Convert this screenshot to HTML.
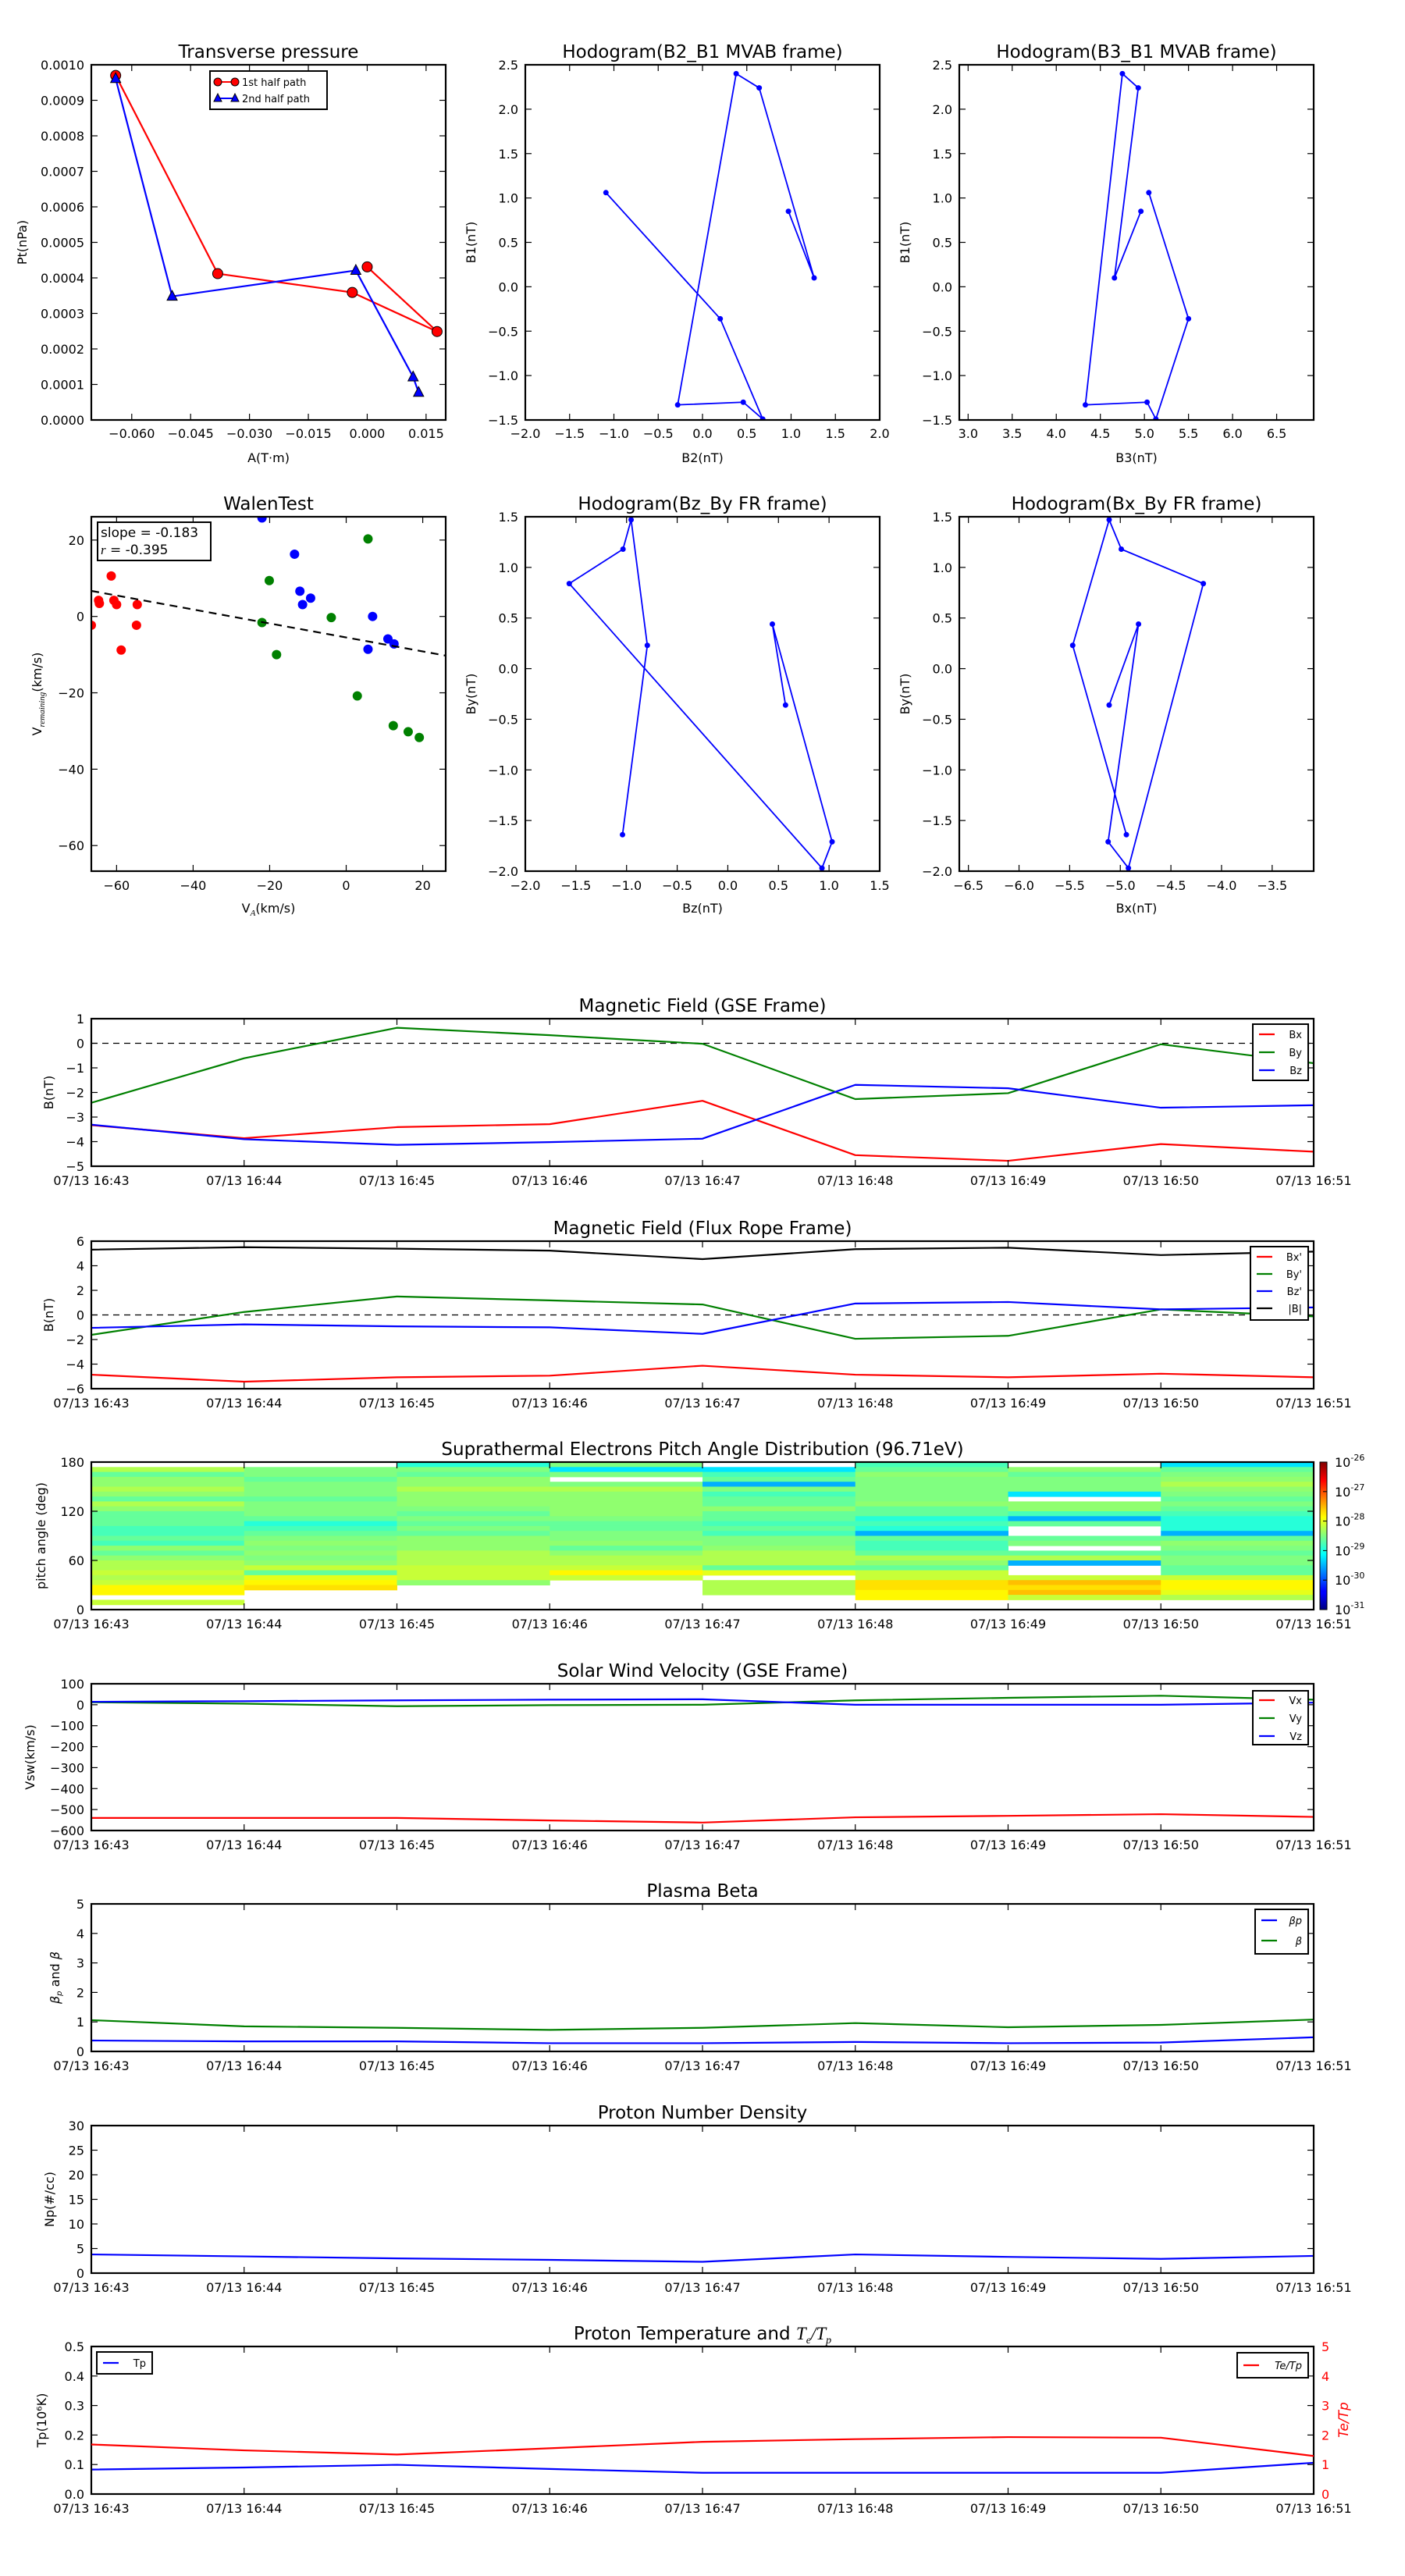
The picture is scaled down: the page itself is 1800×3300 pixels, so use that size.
<!DOCTYPE html>
<html>
<head>
<meta charset="utf-8">
<style>
html,body{margin:0;padding:0;background:#fff;}
svg{display:block;}
text{font-family:"DejaVu Sans","Liberation Sans",sans-serif;}
</style>
</head>
<body>
<svg id="fig" xmlns="http://www.w3.org/2000/svg" width="1800" height="3300" viewBox="0 0 1800 3300">
<rect x="0" y="0" width="1800" height="3300" fill="#fff"/>
<defs>
<linearGradient id="jetgrad" x1="0" y1="1" x2="0" y2="0">
<stop offset="0" stop-color="#000080"/>
<stop offset="0.11" stop-color="#0000ff"/>
<stop offset="0.125" stop-color="#0000ff"/>
<stop offset="0.34" stop-color="#00dcff"/>
<stop offset="0.375" stop-color="#00ffff"/>
<stop offset="0.5" stop-color="#80ff80"/>
<stop offset="0.625" stop-color="#ffff00"/>
<stop offset="0.66" stop-color="#ffe000"/>
<stop offset="0.875" stop-color="#ff0000"/>
<stop offset="1" stop-color="#800000"/>
</linearGradient>
</defs>
</svg>
<script>
// ---------------- DATA ----------------
const tpRedA = [-0.0641, -0.0381, -0.0038, 0.0178, 0.0000];
const tpRedP = [0.00097, 0.000412, 0.000359, 0.000249, 0.000431];
const tpBlueA = [-0.0641, -0.0497, -0.0029, 0.0117, 0.0131];
const tpBlueP = [0.000961, 0.000348, 0.000421, 0.000121, 0.0000774];
const tpXTicks = [-0.060, -0.045, -0.030, -0.015, 0.000, 0.015];
const tpXLabels = ["\u22120.060","\u22120.045","\u22120.030","\u22120.015","0.000","0.015"];
const tpYTicks = [0,0.0001,0.0002,0.0003,0.0004,0.0005,0.0006,0.0007,0.0008,0.0009,0.0010];
const tpYLabels = ["0.0000","0.0001","0.0002","0.0003","0.0004","0.0005","0.0006","0.0007","0.0008","0.0009","0.0010"];
const mvB1 = [1.06, -0.36, -1.49, -1.30, -1.33, 2.40, 2.24, 0.10, 0.85];
const mvB2 = [-1.09, 0.20, 0.68, 0.46, -0.28, 0.38, 0.64, 1.26, 0.97];
const mvB3 = [5.05, 5.50, 5.13, 5.03, 4.33, 4.75, 4.93, 4.66, 4.96];
const walRedX = [-66.6, -64.7, -64.5, -61.4, -60.7, -60.0, -58.8, -54.6, -54.8];
const walRedY = [-2.3, 4.2, 3.4, 10.6, 4.2, 3.1, -8.8, 3.1, -2.3];
const walGreenX = [-22.0, -20.1, -18.2, -3.9, 5.7, 2.9, 12.3, 16.2, 19.1];
const walGreenY = [-1.6, 9.4, -10.0, -0.3, 20.3, -20.8, -28.6, -30.2, -31.7];
const walBlueX = [-22.0, -13.5, -12.1, -11.4, -9.3, 6.9, 5.7, 10.9, 12.5];
const walBlueY = [25.8, 16.3, 6.6, 3.1, 4.8, 0.0, -8.6, -5.9, -7.2];
const walSlope = -0.183;
const walIntercept = -5.5;
const frBx = [-4.94, -5.47, -5.11, -4.99, -4.18, -4.92, -5.12, -4.82, -5.11];
const frBy = [-1.64, 0.23, 1.47, 1.18, 0.84, -1.97, -1.71, 0.44, -0.36];
const frBz = [-1.04, -0.795, -0.955, -1.035, -1.566, 0.93, 1.03, 0.44, 0.57];
const minutes = [0,1,2,3,4,5,6,7,8];
const timeLabels = ["07/13 16:43","07/13 16:44","07/13 16:45","07/13 16:46","07/13 16:47","07/13 16:48","07/13 16:49","07/13 16:50","07/13 16:51"];
const gseBx = [-3.33, -3.86, -3.41, -3.29, -2.34, -4.55, -4.78, -4.10, -4.41];
const gseBy = [-2.42, -0.61, 0.63, 0.33, -0.02, -2.27, -2.03, -0.04, -0.81];
const gseBz = [-3.31, -3.90, -4.13, -4.02, -3.88, -1.69, -1.83, -2.62, -2.52];
const ropeBx = [-4.86, -5.43, -5.07, -4.94, -4.13, -4.86, -5.07, -4.78, -5.07];
const ropeBy = [-1.62, 0.24, 1.50, 1.18, 0.85, -1.94, -1.70, 0.45, -0.12];
const ropeBz = [-1.05, -0.77, -0.93, -1.01, -1.54, 0.93, 1.05, 0.45, 0.61];
const ropeBt = [5.31, 5.51, 5.39, 5.23, 4.54, 5.35, 5.47, 4.87, 5.15];
const swVx = [-540, -540, -540, -552, -562, -537, -530, -522, -535];
const swVy = [12, 5, -7, -2, 0, 21, 33, 43, 24];
const swVz = [14, 17, 21, 24, 26, 0, 0, 0, 10];
const betaP = [0.37, 0.34, 0.34, 0.28, 0.28, 0.32, 0.28, 0.30, 0.48];
const betaT = [1.06, 0.85, 0.80, 0.73, 0.80, 0.96, 0.82, 0.90, 1.08];
const npDens = [3.8, 3.4, 3.0, 2.7, 2.3, 3.8, 3.3, 2.9, 3.5];
const tpTemp = [0.083, 0.090, 0.099, 0.085, 0.072, 0.072, 0.072, 0.072, 0.106];
const teTp = [1.68, 1.48, 1.34, 1.55, 1.77, 1.86, 1.93, 1.91, 1.29];
const padCodes = {W:null,C:-29.51,K:-29.25,Q:-28.94,A:-28.78,G:-28.63,L:-28.5,M:-28.42,Y:-28.26,Z:-28.15,E:-28.0,F:-27.84,O:-27.73,R:-27.56};
const padCol1 = "WYGMMYMGYMGGGAAGAMGMYYZYZFFWZW";
const padCol2 = "WLLGLLLGLLLGQAGLMLMLMZGEFOWWWW";
const padCol3 = "QLGMMYMMMLGLGLGMMMYYYZZZMWWWWW";
const padCol4 = "LKLWLYMMMMMLGGLLMGMYYZFZWWWWWW";
const padCol5 = "WKAGCLAGGMGGAGALLMYYYGEWYYYWWW";
const padCol6 = "AGMLLLLLMGGQAQCGAAGYMGZZOOFFWW";
const padCol7 = "WMGLLLKWMMACGWWGLWGYCWWZRORZWW";
const padCol8 = "KGLMYMLGLGAQQQCGMLGLLGGZFFEYWW";
const padColumns = [padCol1,padCol2,padCol3,padCol4,padCol5,padCol6,padCol7,padCol8];

// ---------------- HELPERS ----------------
const NS = "http://www.w3.org/2000/svg";
const svg = document.getElementById('fig');
const TFS = 16;
function mk(tag, attrs, parent){
  const e = document.createElementNS(NS, tag);
  for (const k in attrs) e.setAttribute(k, attrs[k]);
  (parent||svg).appendChild(e);
  return e;
}
const MINUS = "\u2212";
function fmt(v){ return String(v).replace('-', MINUS); }

let clipId = 0;
function makeAxes(name, x, y, w, h, xmin, xmax, ymin, ymax){
  const g = mk('g', {});
  
  
  clipId++;
  const cp = mk('clipPath', {id:'clip'+clipId}, g);
  mk('rect', {x:x, y:y, width:w, height:h}, cp);
  const data = mk('g', {'clip-path':'url(#clip'+clipId+')'}, g);
  
  
  const sx = v => x + (v - xmin) / (xmax - xmin) * w;
  const sy = v => y + h - (v - ymin) / (ymax - ymin) * h;
  return {g, data, sx, sy, x, y, w, h};
}
function frame(ax){
  const r = mk('rect', {x:ax.x, y:ax.y, width:ax.w, height:ax.h, fill:'none', stroke:'#000', 'stroke-width':2.2}, ax.g);
  
  
}
function xTicks(ax, vals, labels, labelY){
  vals.forEach((v,i)=>{
    const px = ax.sx(v);
    const t1 = mk('line', {x1:px, x2:px, y1:ax.y+ax.h, y2:ax.y+ax.h-8, stroke:'#000','stroke-width':1.2}, ax.g);
    
    
    const t2 = mk('line', {x1:px, x2:px, y1:ax.y, y2:ax.y+8, stroke:'#000','stroke-width':1.2}, ax.g);
    
    
    const tx = mk('text', {x:px, y:labelY, 'text-anchor':'middle', 'font-size':TFS}, ax.g);
    tx.textContent = labels[i];
    
    
  });
}
function yTicks(ax, vals, labels, right){
  vals.forEach((v,i)=>{
    const py = ax.sy(v);
    const t1 = mk('line', {x1:ax.x, x2:ax.x+8, y1:py, y2:py, stroke:'#000','stroke-width':1.2}, ax.g);
    
    
    if (!right){
      const t2 = mk('line', {x1:ax.x+ax.w, x2:ax.x+ax.w-8, y1:py, y2:py, stroke:'#000','stroke-width':1.2}, ax.g);
      
      
    }
    const tx = mk('text', {x:ax.x-9, y:py+6, 'text-anchor':'end', 'font-size':TFS}, ax.g);
    tx.textContent = labels[i];
    
    
  });
}
function title(ax, txt){
  const t = mk('text', {x:ax.x+ax.w/2, y:ax.y-9, 'text-anchor':'middle', 'font-size':23}, ax.g);
  t.textContent = txt;
  
  
  return t;
}
function xLabel(ax, txt, yy){
  const t = mk('text', {x:ax.x+ax.w/2, y:yy, 'text-anchor':'middle', 'font-size':16}, ax.g);
  t.textContent = txt;
  
  
  return t;
}
function yLabel(ax, txt, xx){
  const cy = ax.y + ax.h/2;
  const t = mk('text', {x:xx, y:cy, 'text-anchor':'middle', 'font-size':16, transform:'rotate(-90 '+xx+' '+cy+')'}, ax.g);
  t.textContent = txt;
  
  
  return t;
}
function polyline(ax, xs, ys, color, name, extra){
  const pts = xs.map((v,i)=> ax.sx(v).toFixed(2)+','+ax.sy(ys[i]).toFixed(2)).join(' ');
  const attrs = {points:pts, fill:'none', stroke:color, 'stroke-width':2.2, 'stroke-linejoin':'round'};
  if (extra) for (const k in extra) attrs[k] = extra[k];
  const p = mk('polyline', attrs, ax.data);
  
  
  return p;
}
function dots(ax, xs, ys, color, r, name, stroke){
  xs.forEach((v,i)=>{
    const c = mk('circle', {cx:ax.sx(v), cy:ax.sy(ys[i]), r:r, fill:color, stroke:stroke||'none', 'stroke-width':1}, ax.data);
    
    
  });
}
function triangles(ax, xs, ys, color, name){
  xs.forEach((v,i)=>{
    const cx = ax.sx(v), cy = ax.sy(ys[i]);
    const p = mk('polygon', {points:(cx)+','+(cy-7.5)+' '+(cx-6.5)+','+(cy+5)+' '+(cx+6.5)+','+(cy+5), fill:color, stroke:'#000','stroke-width':1}, ax.data);
    
    
  });
}
function legend(x, y, w, h, entries, name){
  const g = mk('g', {});
  
  
  const r = mk('rect', {x:x, y:y, width:w, height:h, fill:'#fff', stroke:'#000', 'stroke-width':2}, g);
  
  
  entries.forEach(en=>{
    const l = mk('line', {x1:x+8, x2:x+28, y1:en.y, y2:en.y, stroke:en.color, 'stroke-width':2.2}, g);
    
    
    const t = mk('text', {x:x+w-8, y:en.y+5, 'text-anchor':'end', 'font-size':13, 'font-style':en.italic?'italic':'normal', 'font-family':en.italic?'"Liberation Serif",serif':'"DejaVu Sans",sans-serif'}, g);
    t.textContent = en.label;
    
    
  });
  return g;
}

// ---------------- ROW 1 ----------------
{
  const ax = makeAxes('transverse-pressure-chart', 117, 83, 454, 455, -0.0703, 0.0200, 0, 0.0010);
  polyline(ax, tpRedA, tpRedP, '#ff0000', 'first-half-path-line');
  polyline(ax, tpBlueA, tpBlueP, '#0000ff', 'second-half-path-line');
  dots(ax, tpRedA, tpRedP, '#ff0000', 6.5, 'first-half-point', '#000');
  triangles(ax, tpBlueA, tpBlueP, '#0000ff', 'second-half-point');
  frame(ax);
  xTicks(ax, tpXTicks, tpXLabels, 561);
  yTicks(ax, tpYTicks, tpYLabels);
  title(ax, 'Transverse pressure');
  xLabel(ax, 'A(T\u00B7m)', 592);
  yLabel(ax, 'Pt(nPa)', 34);
  const lg = legend(269, 91, 150, 49, [], 'pressure-legend');
  [[105,'#ff0000','1st half path','c'],[126,'#0000ff','2nd half path','t']].forEach(e=>{
    const l = mk('line', {x1:279, x2:301, y1:e[0], y2:e[0], stroke:e[1], 'stroke-width':2}, lg);
    
    
    [279,301].forEach(px=>{
      let m;
      if (e[3]==='c') m = mk('circle', {cx:px, cy:e[0], r:5, fill:e[1], stroke:'#000'}, lg);
      else m = mk('polygon', {points:px+','+(e[0]-6)+' '+(px-5)+','+(e[0]+4)+' '+(px+5)+','+(e[0]+4), fill:e[1], stroke:'#000'}, lg);
      
      
    });
    const t = mk('text', {x:310, y:e[0]+5, 'font-size':13}, lg);
    t.textContent = e[2];
    
    
  });
}
const halfTicks = (a,b)=>{ const r=[]; for(let v=a; v<=b+1e-9; v+=0.5) r.push(Math.round(v*10)/10); return r; };
const halfLabels = arr => arr.map(v=>fmt(v.toFixed(1)));
{
  const ax = makeAxes('hodogram-b2-b1-chart', 673, 83, 454, 455, -2, 2, -1.5, 2.5);
  polyline(ax, mvB2, mvB1, '#0000ff', 'hodogram-line', {'stroke-width':1.8});
  dots(ax, mvB2, mvB1, '#0000ff', 3.5, 'hodogram-point');
  frame(ax);
  const xt = halfTicks(-2,2); xTicks(ax, xt, halfLabels(xt), 561);
  const yt = halfTicks(-1.5,2.5); yTicks(ax, yt, halfLabels(yt));
  title(ax, 'Hodogram(B2_B1 MVAB frame)');
  xLabel(ax, 'B2(nT)', 592);
  yLabel(ax, 'B1(nT)', 609);
}
{
  const ax = makeAxes('hodogram-b3-b1-chart', 1229, 83, 454, 455, 2.9, 6.92, -1.5, 2.5);
  polyline(ax, mvB3, mvB1, '#0000ff', 'hodogram-line', {'stroke-width':1.8});
  dots(ax, mvB3, mvB1, '#0000ff', 3.5, 'hodogram-point');
  frame(ax);
  const xt = halfTicks(3,6.5); xTicks(ax, xt, halfLabels(xt), 561);
  const yt = halfTicks(-1.5,2.5); yTicks(ax, yt, halfLabels(yt));
  title(ax, 'Hodogram(B3_B1 MVAB frame)');
  xLabel(ax, 'B3(nT)', 592);
  yLabel(ax, 'B1(nT)', 1165);
}
// ---------------- ROW 2 ----------------
{
  const ax = makeAxes('walen-test-chart', 117, 662, 454, 454, -66.6, 26.0, -66.7, 26.1);
  dots(ax, walRedX, walRedY, '#ff0000', 6, 'walen-point-red');
  dots(ax, walGreenX, walGreenY, '#008000', 6, 'walen-point-green');
  dots(ax, walBlueX, walBlueY, '#0000ff', 6, 'walen-point-blue');
  const fx = [-66.6, 26.0];
  const fy = fx.map(v=> walSlope*v + walIntercept);
  polyline(ax, fx, fy, '#000', 'regression-line', {'stroke-dasharray':'10,7'});
  frame(ax);
  xTicks(ax, [-60,-40,-20,0,20], ['\u221260','\u221240','\u221220','0','20'], 1140);
  yTicks(ax, [-60,-40,-20,0,20], ['\u221260','\u221240','\u221220','0','20']);
  title(ax, 'WalenTest');
  const xl = xLabel(ax, '', 1169);
  xl.innerHTML = 'V<tspan font-size="11" dy="4" font-style="italic" font-family="Liberation Serif,serif">A</tspan><tspan dy="-4">(km/s)</tspan>';
  const yl = yLabel(ax, '', 53);
  yl.innerHTML = 'V<tspan font-size="11" dy="4" font-style="italic" font-family="Liberation Serif,serif">remaining</tspan><tspan dy="-4">(km/s)</tspan>';
  const bx = mk('rect', {x:125, y:669, width:145, height:49, fill:'#fff', stroke:'#000','stroke-width':2}, ax.g);
  
  
  const t1 = mk('text', {x:129, y:688, 'font-size':17}, ax.g);
  t1.textContent = 'slope = -0.183';
  
  
  const t2 = mk('text', {x:129, y:710, 'font-size':17}, ax.g);
  t2.innerHTML = '<tspan font-style="italic" font-family="Liberation Serif,serif">r</tspan> = -0.395';
  
  
}
{
  const ax = makeAxes('hodogram-bz-by-chart', 673, 662, 454, 454, -2, 1.5, -2, 1.5);
  polyline(ax, frBz, frBy, '#0000ff', 'hodogram-line', {'stroke-width':1.8});
  dots(ax, frBz, frBy, '#0000ff', 3.5, 'hodogram-point');
  frame(ax);
  const xt = halfTicks(-2,1.5); xTicks(ax, xt, halfLabels(xt), 1140);
  const yt = halfTicks(-2,1.5); yTicks(ax, yt, halfLabels(yt));
  title(ax, 'Hodogram(Bz_By FR frame)');
  xLabel(ax, 'Bz(nT)', 1169);
  yLabel(ax, 'By(nT)', 609);
}
{
  const ax = makeAxes('hodogram-bx-by-chart', 1229, 662, 454, 454, -6.59, -3.09, -2, 1.5);
  polyline(ax, frBx, frBy, '#0000ff', 'hodogram-line', {'stroke-width':1.8});
  dots(ax, frBx, frBy, '#0000ff', 3.5, 'hodogram-point');
  frame(ax);
  const xt = halfTicks(-6.5,-3.5); xTicks(ax, xt, halfLabels(xt), 1140);
  const yt = halfTicks(-2,1.5); yTicks(ax, yt, halfLabels(yt));
  title(ax, 'Hodogram(Bx_By FR frame)');
  xLabel(ax, 'Bx(nT)', 1169);
  yLabel(ax, 'By(nT)', 1165);
}
// ---------------- TIME SERIES ----------------
function tsAxes(name, y, h, ymin, ymax){
  return makeAxes(name, 117, y, 1566, h, 0, 8, ymin, ymax);
}
function tsFinish(ax, yvals, ylabels, titleTxt, ylab, ylx, right){
  frame(ax);
  xTicks(ax, minutes, timeLabels, ax.y+ax.h+24);
  yTicks(ax, yvals, ylabels, right);
  const t = title(ax, titleTxt);
  const yl = yLabel(ax, ylab, ylx);
  return {t, yl};
}
{
  const ax = tsAxes('magnetic-field-gse-chart', 1305, 189, -5, 1);
  polyline(ax, [0,8], [0,0], '#000', 'zero-line', {'stroke-width':1.2, 'stroke-dasharray':'8,6'});
  polyline(ax, minutes, gseBx, '#ff0000', 'bx-line');
  polyline(ax, minutes, gseBy, '#008000', 'by-line');
  polyline(ax, minutes, gseBz, '#0000ff', 'bz-line');
  tsFinish(ax, [-5,-4,-3,-2,-1,0,1], ['\u22125','\u22124','\u22123','\u22122','\u22121','0','1'], 'Magnetic Field (GSE Frame)', 'B(nT)', 68);
  legend(1605, 1312, 71, 72, [{y:1325,color:'#ff0000',label:'Bx'},{y:1348,color:'#008000',label:'By'},{y:1371,color:'#0000ff',label:'Bz'}], 'gse-legend');
}
{
  const ax = tsAxes('magnetic-field-flux-rope-chart', 1590, 189, -6, 6);
  polyline(ax, [0,8], [0,0], '#000', 'zero-line', {'stroke-width':1.2, 'stroke-dasharray':'8,6'});
  polyline(ax, minutes, ropeBx, '#ff0000', 'bx-prime-line');
  polyline(ax, minutes, ropeBy, '#008000', 'by-prime-line');
  polyline(ax, minutes, ropeBz, '#0000ff', 'bz-prime-line');
  polyline(ax, minutes, ropeBt, '#000000', 'b-magnitude-line');
  tsFinish(ax, [-6,-4,-2,0,2,4,6], ['\u22126','\u22124','\u22122','0','2','4','6'], 'Magnetic Field (Flux Rope Frame)', 'B(nT)', 68);
  legend(1602, 1597, 74, 94, [{y:1610,color:'#ff0000',label:"Bx'"},{y:1632,color:'#008000',label:"By'"},{y:1654,color:'#0000ff',label:"Bz'"},{y:1676,color:'#000',label:'|B|'}], 'flux-rope-legend');
}
function jet(t){
  t = Math.max(0, Math.min(1, t));
  const c = v => Math.round(255*Math.max(0, Math.min(1, v)));
  return 'rgb('+c(1.5-Math.abs(4*t-3))+','+c(1.5-Math.abs(4*t-2))+','+c(1.5-Math.abs(4*t-1))+')';
}
{
  const ax = tsAxes('pitch-angle-distribution-chart', 1873, 189, 0, 180);
  padColumns.forEach((col, ci)=>{
    for (let ri=0; ri<30; ri++){
      const val = padCodes[col[ri]];
      if (val === null || val === undefined) continue;
      const top = 180 - ri*6;
      const x1 = ax.sx(minutes[ci]), x2 = ax.sx(minutes[ci+1]);
      const y1 = ax.sy(top), y2 = ax.sy(top-6);
      const r = mk('rect', {x:x1, y:y1, width:x2-x1+0.5, height:y2-y1+0.5, fill:jet((val+31)/5)}, ax.data);
      
      
    }
  });
  tsFinish(ax, [0,60,120,180], ['0','60','120','180'], 'Suprathermal Electrons Pitch Angle Distribution (96.71eV)', 'pitch angle (deg)', 58);
  const cb = mk('rect', {x:1691, y:1873, width:9, height:189, fill:'url(#jetgrad)', stroke:'#000', 'stroke-width':1}, svg);
  
  
  const cbExp = ['-26','-27','-28','-29','-30','-31'];
  cbExp.forEach((e,i)=>{
    const yy = 1873 + i*189/5;
    const tk = mk('line', {x1:1695, x2:1700, y1:yy, y2:yy, stroke:'#000', 'stroke-width':1}, svg);
    
    
    const t = mk('text', {x:1710, y:yy+6, 'font-size':16}, svg);
    t.innerHTML = '10<tspan font-size="11" dy="-8">'+e+'</tspan>';
    
    
  });
}
{
  const ax = tsAxes('solar-wind-velocity-chart', 2157, 188, -600, 100);
  polyline(ax, minutes, swVx, '#ff0000', 'vx-line');
  polyline(ax, minutes, swVy, '#008000', 'vy-line');
  polyline(ax, minutes, swVz, '#0000ff', 'vz-line');
  tsFinish(ax, [-600,-500,-400,-300,-200,-100,0,100], ['\u2212600','\u2212500','\u2212400','\u2212300','\u2212200','\u2212100','0','100'], 'Solar Wind Velocity (GSE Frame)', 'Vsw(km/s)', 44);
  legend(1605, 2166, 71, 69, [{y:2178,color:'#ff0000',label:'Vx'},{y:2201,color:'#008000',label:'Vy'},{y:2224,color:'#0000ff',label:'Vz'}], 'velocity-legend');
}
{
  const ax = tsAxes('plasma-beta-chart', 2439, 189, 0, 5);
  polyline(ax, minutes, betaP, '#0000ff', 'beta-p-line');
  polyline(ax, minutes, betaT, '#008000', 'beta-line');
  const r = tsFinish(ax, [0,1,2,3,4,5], ['0','1','2','3','4','5'], 'Plasma Beta', '', 76);
  r.yl.setAttribute('font-family', 'Liberation Serif, serif');
  r.yl.innerHTML = '<tspan font-style="italic">\u03B2</tspan><tspan font-size="10" font-style="italic" dy="3">p</tspan><tspan dy="-3"> and </tspan><tspan font-style="italic">\u03B2</tspan>';
  legend(1608, 2446, 68, 57, [{y:2460,color:'#0000ff',label:'\u03B2p',italic:true},{y:2486,color:'#008000',label:'\u03B2',italic:true}], 'beta-legend');
}
{
  const ax = tsAxes('proton-density-chart', 2723, 189, 0, 30);
  polyline(ax, minutes, npDens, '#0000ff', 'density-line');
  tsFinish(ax, [0,5,10,15,20,25,30], ['0','5','10','15','20','25','30'], 'Proton Number Density', 'Np(#/cc)', 69);
}
{
  const ax = tsAxes('proton-temperature-chart', 3006, 189, 0, 0.5);
  const axR = makeAxes('te-tp-axis', 117, 3006, 1566, 189, 0, 8, 0, 5);
  polyline(axR, minutes, teTp, '#ff0000', 'te-tp-line');
  polyline(ax, minutes, tpTemp, '#0000ff', 'tp-line');
  const r = tsFinish(ax, [0,0.1,0.2,0.3,0.4,0.5], ['0.0','0.1','0.2','0.3','0.4','0.5'], '', 'Tp(10\u2076K)', 59, true);
  r.t.innerHTML = 'Proton Temperature and <tspan font-family="Liberation Serif,serif" font-style="italic">T</tspan><tspan font-family="Liberation Serif,serif" font-style="italic" font-size="14" dy="5">e</tspan><tspan font-family="Liberation Serif,serif" font-style="italic" dy="-5">/T</tspan><tspan font-family="Liberation Serif,serif" font-style="italic" font-size="14" dy="5">p</tspan>';
  [0,1,2,3,4,5].forEach(v=>{
    const py = axR.sy(v);
    const tk = mk('line', {x1:1683, x2:1675, y1:py, y2:py, stroke:'#000','stroke-width':1.2}, svg);
    
    
    const t = mk('text', {x:1693, y:py+6, 'font-size':16, fill:'#ff0000'}, svg);
    t.textContent = String(v);
    
    
  });
  const rl = mk('text', {x:1727, y:3100, 'text-anchor':'middle', 'font-size':17, fill:'#ff0000', 'font-style':'italic', 'font-family':'Liberation Serif, serif', transform:'rotate(-90 1727 3100)'}, svg);
  rl.textContent = 'Te/Tp';
  
  
  legend(124, 3013, 71, 28, [{y:3027,color:'#0000ff',label:'Tp'}], 'tp-legend');
  legend(1585, 3014, 91, 32, [{y:3030,color:'#ff0000',label:'Te/Tp',italic:true}], 'te-tp-legend');
}
</script>
</body>
</html>
